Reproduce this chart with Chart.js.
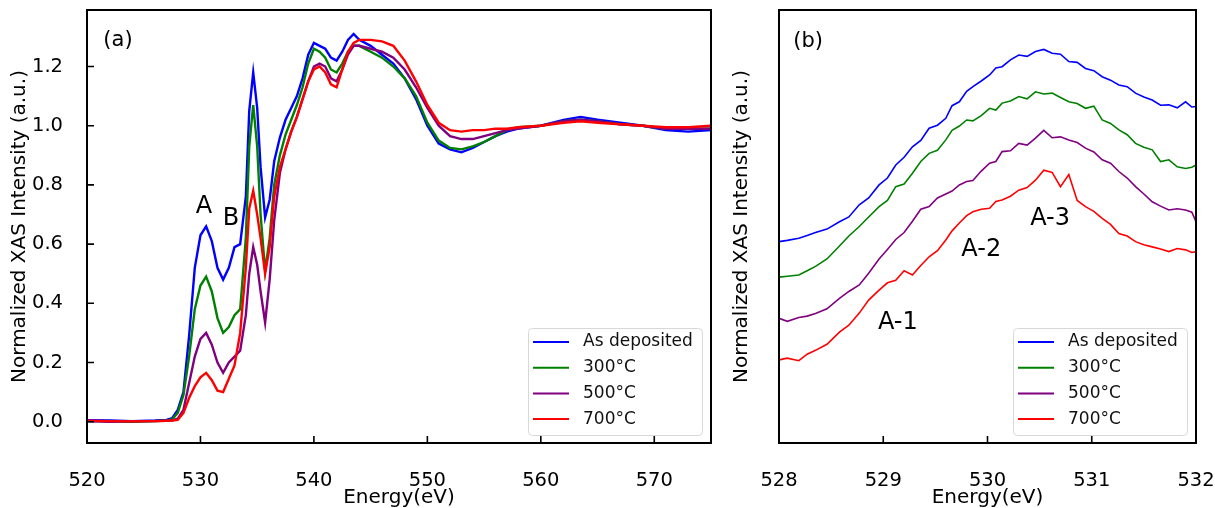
<!DOCTYPE html>
<html>
<head>
<meta charset="utf-8">
<script src="https://cdn.jsdelivr.net/npm/chart.js@4.4.1/dist/chart.umd.min.js"></script>
<style>
  html, body { margin: 0; padding: 0; background: #fff; }
  #wrap { position: relative; width: 1215px; height: 508px; }
  canvas { position: absolute; top: 0; }
  #chartA { left: 0; }
  #chartB { left: 720px; }
</style>
</head>
<body>
<div id="wrap">
  <canvas id="chartA" width="720" height="508"></canvas>
  <canvas id="chartB" width="495" height="508"></canvas>
</div>
<script>
// series names + colours (matplotlib named colours)
const seriesLabels = ['As deposited', '300°C', '500°C', '700°C'];
const seriesColors = ['#0000ff', '#008000', '#800080', '#ff0000'];

// tick labels
const xTicksA = [520, 530, 540, 550, 560, 570];
const yTicksA = [0, 0.2, 0.4, 0.6, 0.8, 1.0, 1.2];
const xTicksB = [528, 529, 530, 531, 532];

// panel (a): full O K-edge, energies in eV
const energyA = [
  520, 522, 524, 526, 527, 527.5, 528, 528.5, 529, 529.5,
  530, 530.5, 531, 531.5, 532, 532.5, 533, 533.5, 534, 534.3,
  534.65, 535, 535.3, 535.7, 536.1, 536.5, 537, 537.5, 538, 538.5,
  539, 539.5, 540, 540.5, 541, 541.5, 542, 542.5, 543, 543.5,
  544, 545, 546, 547, 548, 549, 550, 551, 552, 553,
  554, 555, 556, 557, 558, 560, 562, 563.5, 565, 567,
  569, 571, 573, 575
];
const asDepositedA = [
  0.005, 0.004, 0.002, 0.004, 0.006, 0.012, 0.04, 0.10, 0.29, 0.52,
  0.63, 0.66, 0.61, 0.52, 0.48, 0.52, 0.59, 0.60, 0.76, 1.05,
  1.18, 1.06, 0.86, 0.69, 0.75, 0.88, 0.96, 1.02, 1.06, 1.10,
  1.16, 1.24, 1.28, 1.27, 1.26, 1.23, 1.22, 1.25, 1.29, 1.31,
  1.29, 1.27, 1.24, 1.21, 1.16, 1.09, 1.00, 0.94, 0.92, 0.91,
  0.925, 0.945, 0.965, 0.98, 0.99, 1.0, 1.02, 1.03, 1.02, 1.01,
  1.0, 0.985, 0.98, 0.985
];
const t300A = [
  0.002, 0.002, 0.0, 0.002, 0.004, 0.008, 0.03, 0.09, 0.22, 0.38,
  0.46, 0.49, 0.44, 0.35, 0.30, 0.32, 0.36, 0.38, 0.62, 0.93,
  1.07, 0.93, 0.70, 0.51, 0.62, 0.80, 0.90, 0.97, 1.02, 1.07,
  1.13, 1.21, 1.26, 1.25, 1.23, 1.19, 1.18, 1.21, 1.25, 1.27,
  1.27, 1.25, 1.23, 1.20, 1.16, 1.10, 1.01, 0.95, 0.925, 0.92,
  0.93, 0.945, 0.965, 0.985, 0.995, 1.0, 1.015, 1.02, 1.015, 1.005,
  1.0, 0.99, 0.99, 0.99
];
const t500A = [
  0.002, 0.0, 0.001, 0.002, 0.003, 0.004, 0.01, 0.04, 0.13, 0.22,
  0.28, 0.30, 0.26, 0.20, 0.165, 0.20, 0.22, 0.24, 0.36, 0.50,
  0.59, 0.53, 0.44, 0.335, 0.48, 0.68, 0.84, 0.92, 0.98, 1.03,
  1.09, 1.15, 1.20, 1.21, 1.20, 1.16, 1.15, 1.19, 1.24, 1.27,
  1.27, 1.26, 1.25, 1.23, 1.19, 1.13, 1.06, 1.0, 0.965, 0.955,
  0.955, 0.965, 0.975, 0.985, 0.99, 1.0, 1.015, 1.02, 1.015, 1.005,
  1.0, 0.99, 0.99, 0.99
];
const t700A = [
  0.003, 0.002, 0.001, 0.002, 0.003, 0.004, 0.006, 0.03, 0.08, 0.12,
  0.15, 0.165, 0.14, 0.105, 0.10, 0.145, 0.19, 0.30, 0.52, 0.72,
  0.78, 0.70, 0.62, 0.50, 0.59, 0.76, 0.86, 0.92, 0.98, 1.03,
  1.09, 1.15, 1.19, 1.20, 1.18, 1.14, 1.13, 1.19, 1.25, 1.28,
  1.29, 1.29, 1.285, 1.27, 1.22, 1.15, 1.07, 1.01, 0.985, 0.98,
  0.985, 0.985, 0.99, 0.99, 0.995, 1.0, 1.01, 1.015, 1.01, 1.005,
  1.0, 0.995, 0.995, 1.0
];

// panel (b): zoom on peak A, curves offset (arb. units)
const energyB = [
  528.00, 528.08, 528.19, 528.27, 528.35, 528.46, 528.58, 528.67, 528.77, 528.86,
  528.96, 529.04, 529.12, 529.20, 529.28, 529.36, 529.44, 529.52, 529.60, 529.66,
  529.73, 529.80, 529.86, 529.94, 530.02, 530.08, 530.14, 530.22, 530.30, 530.38,
  530.46, 530.54, 530.62, 530.70, 530.78, 530.86, 530.94, 531.02, 531.10, 531.18,
  531.26, 531.34, 531.42, 531.50, 531.58, 531.66, 531.74, 531.82, 531.90, 531.96,
  532.00
];
const asDepositedB = [
  0.465, 0.468, 0.473, 0.479, 0.486, 0.494, 0.511, 0.522, 0.550, 0.566,
  0.596, 0.612, 0.642, 0.660, 0.684, 0.699, 0.727, 0.734, 0.750, 0.779,
  0.788, 0.812, 0.823, 0.836, 0.850, 0.866, 0.869, 0.885, 0.896, 0.893,
  0.904, 0.909, 0.900, 0.898, 0.881, 0.879, 0.865, 0.860, 0.846, 0.838,
  0.827, 0.823, 0.808, 0.799, 0.792, 0.780, 0.781, 0.774, 0.788, 0.776,
  0.777
];
const t300B = [
  0.383, 0.385, 0.388, 0.398, 0.408, 0.425, 0.455, 0.478, 0.500, 0.522,
  0.546, 0.560, 0.592, 0.598, 0.623, 0.650, 0.669, 0.676, 0.700, 0.722,
  0.732, 0.746, 0.744, 0.756, 0.773, 0.769, 0.785, 0.790, 0.800, 0.795,
  0.811, 0.806, 0.808, 0.798, 0.788, 0.784, 0.773, 0.778, 0.746, 0.738,
  0.723, 0.712, 0.692, 0.683, 0.677, 0.650, 0.654, 0.638, 0.634, 0.637,
  0.642
];
const t500B = [
  0.288, 0.281, 0.290, 0.293, 0.299, 0.310, 0.334, 0.350, 0.365, 0.392,
  0.425, 0.447, 0.470, 0.486, 0.512, 0.540, 0.546, 0.566, 0.575, 0.582,
  0.596, 0.604, 0.606, 0.628, 0.646, 0.650, 0.673, 0.675, 0.692, 0.688,
  0.704, 0.722, 0.705, 0.707, 0.700, 0.694, 0.681, 0.672, 0.654, 0.646,
  0.627, 0.612, 0.592, 0.575, 0.557, 0.547, 0.538, 0.541, 0.538, 0.533,
  0.511
];
const t700B = [
  0.192, 0.196, 0.190, 0.205, 0.214, 0.228, 0.256, 0.272, 0.300, 0.330,
  0.353, 0.370, 0.376, 0.398, 0.388, 0.410, 0.430, 0.444, 0.469, 0.490,
  0.508, 0.525, 0.534, 0.540, 0.542, 0.558, 0.561, 0.570, 0.584, 0.590,
  0.607, 0.630, 0.625, 0.592, 0.620, 0.560, 0.546, 0.535, 0.519, 0.505,
  0.484, 0.478, 0.465, 0.458, 0.453, 0.448, 0.442, 0.449, 0.446, 0.440,
  0.442
];

const FONT = '"DejaVu Sans", "Liberation Sans", sans-serif';
Chart.defaults.font.family = FONT;
Chart.defaults.color = '#000';

const toPoints = (xs, ys) => xs.map((x, i) => ({ x, y: ys[i] }));

function makeDatasets(xs, seriesList, width) {
  return seriesList.map((ys, i) => ({
    label: seriesLabels[i],
    data: toPoints(xs, ys),
    borderColor: seriesColors[i],
    backgroundColor: seriesColors[i],
    borderWidth: width,
    pointRadius: 0,
    tension: 0,
    order: seriesList.length - i, // last series drawn on top, like matplotlib
  }));
}

// kill the extra label padding chart.js reserves, so the plot box sits where we want it
function noPadding(s) {
  s.paddingTop = 0;
  s.paddingBottom = 0;
  s.paddingLeft = 0;
  s.paddingRight = 0;
}

// black frame + inward ticks
const frameTicks = {
  id: 'frameTicks',
  afterDatasetsDraw(chart, args, opts) {
    const { ctx, chartArea: { left, top, right, bottom }, scales: { x, y } } = chart;
    ctx.save();
    ctx.strokeStyle = '#000';
    ctx.lineWidth = 1.6;
    ctx.beginPath();
    x.ticks.forEach((t) => {
      const px = x.getPixelForValue(t.value);
      ctx.moveTo(px, bottom);
      ctx.lineTo(px, bottom - 7);
    });
    if (opts.yTicks) {
      y.ticks.forEach((t) => {
        const py = y.getPixelForValue(t.value);
        ctx.moveTo(left, py);
        ctx.lineTo(left + 7, py);
      });
    }
    ctx.stroke();
    ctx.lineWidth = 2;
    ctx.strokeRect(left, top, right - left, bottom - top);
    ctx.restore();
  },
};

// matplotlib-like legend in the lower right corner
const boxLegend = {
  id: 'boxLegend',
  afterDraw(chart) {
    const { ctx, chartArea: { right, bottom } } = chart;
    const w = 174, h = 107;
    const x0 = right - 9 - w;
    const y0 = bottom - 8 - h;
    ctx.save();
    ctx.beginPath();
    ctx.roundRect(x0 + 0.5, y0 + 0.5, w, h, 4);
    ctx.fillStyle = 'rgba(255,255,255,0.85)';
    ctx.fill();
    ctx.strokeStyle = '#d8d8d8';
    ctx.lineWidth = 1;
    ctx.stroke();
    ctx.font = `17px ${FONT}`;
    ctx.textBaseline = 'middle';
    chart.data.datasets.forEach((ds, i) => {
      const yy = y0 + 14 + i * 25.7;
      ctx.strokeStyle = ds.borderColor;
      ctx.lineWidth = 2;
      ctx.beginPath();
      ctx.moveTo(x0 + 5, yy);
      ctx.lineTo(x0 + 41, yy);
      ctx.stroke();
      ctx.fillStyle = '#111';
      ctx.fillText(ds.label, x0 + 55, yy);
    });
    ctx.restore();
  },
};

// text labels placed in data coordinates
const textMarks = {
  id: 'textMarks',
  afterDatasetsDraw(chart, args, opts) {
    const { ctx, scales: { x, y } } = chart;
    ctx.save();
    ctx.fillStyle = '#000';
    ctx.textAlign = 'center';
    ctx.textBaseline = 'middle';
    opts.items.forEach((t) => {
      ctx.font = `${t.size}px ${FONT}`;
      ctx.fillText(t.text, x.getPixelForValue(t.x), y.getPixelForValue(t.y));
    });
    ctx.restore();
  },
};

function xScale(min, max, ticks) {
  return {
    type: 'linear',
    min,
    max,
    afterBuildTicks: (s) => { s.ticks = ticks.map((v) => ({ value: v })); },
    afterFit: (s) => { s.height = 65; noPadding(s); },
    grid: { display: false, drawTicks: false },
    border: { display: false },
    ticks: {
      font: { size: 19.5 },
      color: '#000',
      padding: 26,
      maxRotation: 0,
      autoSkip: false,
      callback: (v) => String(v),
    },
    title: {
      display: true,
      text: 'Energy(eV)',
      font: { size: 20 },
      color: '#000',
      padding: { top: 0, bottom: -2 },
    },
  };
}

const yTitle = (pad) => ({
  display: true,
  text: 'Normalized XAS Intensity (a.u.)',
  font: { size: 20 },
  color: '#000',
  padding: { top: pad, bottom: 0 },
});

new Chart(document.getElementById('chartA'), {
  type: 'line',
  data: {
    datasets: makeDatasets(energyA, [asDepositedA, t300A, t500A, t700A], 2.4),
  },
  plugins: [frameTicks, boxLegend, textMarks],
  options: {
    responsive: false,
    animation: false,
    layout: { padding: { top: 10, right: 9, left: 0, bottom: 0 } },
    plugins: {
      legend: { display: false },
      tooltip: { enabled: false },
      frameTicks: { yTicks: true },
      textMarks: {
        items: [
          { text: '(a)', x: 522.73, y: 1.287, size: 21 },
          { text: 'A', x: 530.31, y: 0.727, size: 24 },
          { text: 'B', x: 532.69, y: 0.687, size: 24 },
        ],
      },
    },
    scales: {
      x: xScale(520, 575, xTicksA),
      y: {
        type: 'linear',
        min: -0.072,
        max: 1.391,
        afterBuildTicks: (s) => { s.ticks = yTicksA.map((v) => ({ value: v })); },
        afterFit: (s) => { s.width = 87; noPadding(s); },
        grid: { display: false, drawTicks: false },
        border: { display: false },
        ticks: {
          font: { size: 19.5 },
          color: '#000',
          padding: 24,
          callback: (v) => v.toFixed(1),
        },
        title: yTitle(8),
      },
    },
  },
});

new Chart(document.getElementById('chartB'), {
  type: 'line',
  data: {
    datasets: makeDatasets(energyB, [asDepositedB, t300B, t500B, t700B], 1.6),
  },
  plugins: [frameTicks, boxLegend, textMarks],
  options: {
    responsive: false,
    animation: false,
    layout: { padding: { top: 10, right: 19, left: 0, bottom: 0 } },
    plugins: {
      legend: { display: false },
      tooltip: { enabled: false },
      frameTicks: { yTicks: false },
      textMarks: {
        items: [
          { text: '(b)', x: 528.28, y: 0.926, size: 21 },
          { text: 'A-1', x: 529.14, y: 0.277, size: 24 },
          { text: 'A-2', x: 529.94, y: 0.447, size: 24 },
          { text: 'A-3', x: 530.6, y: 0.519, size: 24 },
        ],
      },
    },
    scales: {
      x: xScale(528, 532, xTicksB),
      y: {
        type: 'linear',
        min: 0,
        max: 1,
        afterFit: (s) => { s.width = 59; noPadding(s); },
        grid: { display: false, drawTicks: false },
        border: { display: false },
        ticks: { display: false },
        title: yTitle(10),
      },
    },
  },
});
</script>
</body>
</html>
